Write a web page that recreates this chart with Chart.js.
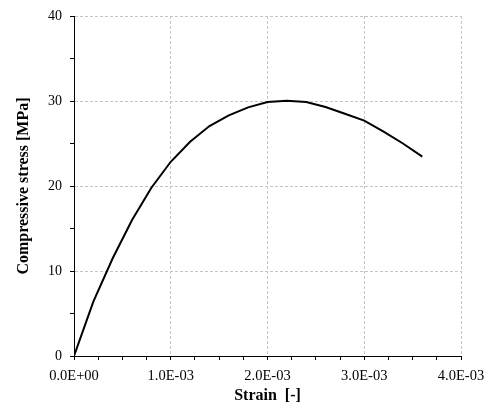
<!DOCTYPE html>
<html>
<head>
<meta charset="utf-8">
<script src="https://cdn.jsdelivr.net/npm/chart.js@4"></script>
<style>
  html, body { margin: 0; padding: 0; background: #fff; }
  #wrap { width: 485px; height: 408px; position: relative; }
</style>
</head>
<body>
<div id="wrap"><canvas id="stressChart"></canvas></div>
<script>
// strain [-] and compressive stress [MPa]
const strain = [0, 0.0002, 0.0004, 0.0006, 0.0008, 0.0010, 0.0012, 0.0014, 0.0016, 0.0018,
                0.0020, 0.0022, 0.0024, 0.0026, 0.0028, 0.0030, 0.0032, 0.0034, 0.0036];
const stress = [0, 6.4, 11.5, 16.0, 19.8, 22.85, 25.2, 27.05, 28.3, 29.25,
                29.87, 30.02, 29.87, 29.3, 28.5, 27.7, 26.4, 25.0, 23.45];

const xMajor = 0.001;
const yMajor = 10;

function fmtExp(v) {
    const parts = v.toExponential(1).split('e');
    const sign = parts[1][0] === '-' ? '-' : '+';
    const exp = parts[1].replace(/[+-]/, '').padStart(2, '0');
    return parts[0] + 'E' + sign + exp;
}

const isMajor = (v, step) => Math.abs(v / step - Math.round(v / step)) < 1e-6;

const ctx = document.getElementById('stressChart').getContext('2d');
new Chart(ctx, {
    type: 'line',
    data: {
        datasets: [{
            data: strain.map((s, i) => ({ x: s, y: stress[i] })),
            borderColor: '#000',
            borderWidth: 2,
            pointRadius: 0,
            tension: 0,
            fill: false
        }]
    },
    options: {
        responsive: true,
        maintainAspectRatio: false,
        animation: false,
        layout: { padding: { top: 16, right: 24, left: 0, bottom: 0 } },
        plugins: { legend: { display: false }, tooltip: { enabled: false } },
        scales: {
            x: {
                type: 'linear',
                min: 0,
                max: 0.004,
                afterFit: (scale) => {
                    scale.height = 52;
                    scale.paddingLeft = 0;
                    scale.paddingRight = 0;
                },
                ticks: {
                    stepSize: 0.00025,
                    autoSkip: false,
                    maxRotation: 0,
                    padding: 7,
                    color: '#000',
                    font: { family: 'Liberation Serif', size: 14.5 },
                    callback: (v) => isMajor(v, xMajor) ? fmtExp(v) : ''
                },
                grid: {
                    color: (c) => (c.tick && isMajor(c.tick.value, xMajor) && c.tick.value > 0) ? '#c4c4c4' : 'rgba(0,0,0,0)',
                    tickColor: '#000',
                    tickLength: 4,
                    tickBorderDash: []
                },
                border: { color: '#000', width: 1, dash: [3, 2] },
                title: {
                    display: true,
                    text: 'Strain  [-]',
                    color: '#000',
                    font: { family: 'Liberation Serif', size: 16, weight: 'bold' },
                    padding: { top: 2, bottom: 3 }
                }
            },
            y: {
                min: 0,
                max: 40,
                afterFit: (scale) => {
                    scale.width = 74;
                    scale.paddingTop = 0;
                    scale.paddingBottom = 0;
                },
                ticks: {
                    stepSize: 5,
                    autoSkip: false,
                    padding: 8,
                    color: '#000',
                    font: { family: 'Liberation Serif', size: 14 },
                    callback: (v) => isMajor(v, yMajor) ? String(v) : ''
                },
                grid: {
                    color: (c) => (c.tick && isMajor(c.tick.value, yMajor) && c.tick.value > 0) ? '#c4c4c4' : 'rgba(0,0,0,0)',
                    tickColor: '#000',
                    tickLength: 4,
                    tickBorderDash: []
                },
                border: { color: '#000', width: 1, dash: [3, 2] },
                title: {
                    display: true,
                    text: 'Compressive stress [MPa]',
                    color: '#000',
                    font: { family: 'Liberation Serif', size: 16, weight: 'bold' },
                    padding: { top: 14, bottom: 0 }
                }
            }
        }
    }
});
</script>
</body>
</html>
